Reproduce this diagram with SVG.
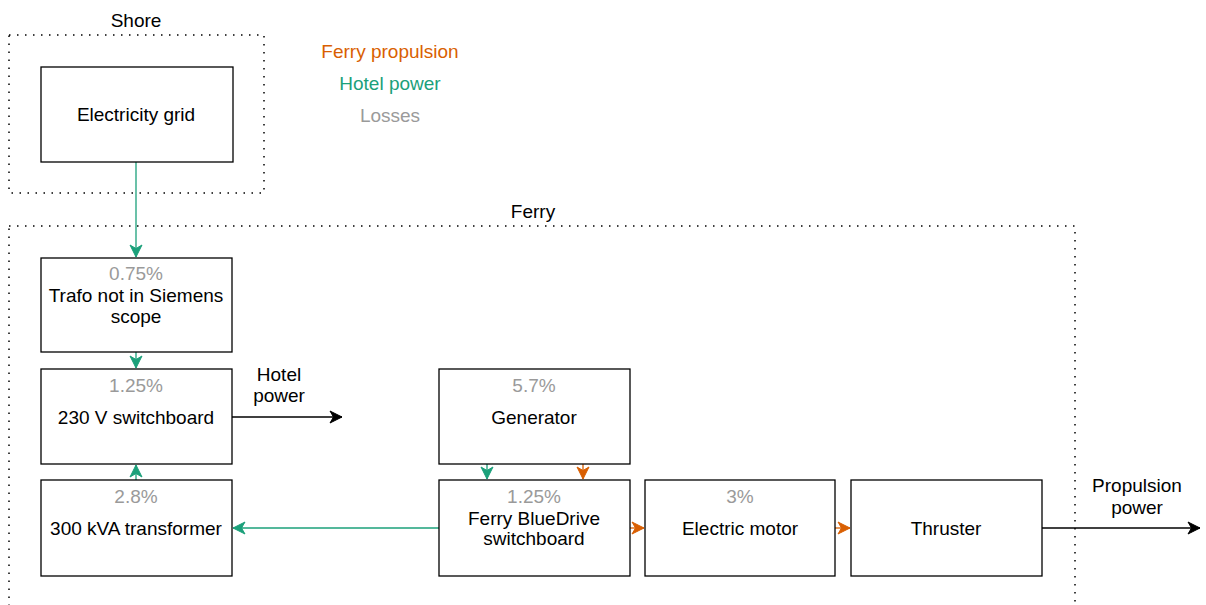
<svg xmlns="http://www.w3.org/2000/svg" width="1206" height="605" viewBox="0 0 1206 605">
<style>
text{font-family:"Liberation Sans",Arial,sans-serif;font-size:19px;text-anchor:middle;fill:#000}
.loss{fill:#9a9a9a}
.box{fill:#fff;stroke:#000;stroke-width:1.3}
.cont{fill:none;stroke:#000;stroke-width:1.5;stroke-dasharray:1.5 6.5}
.g{stroke:#1ba07a;stroke-width:1.3;fill:none}
.o{stroke:#d95f02;stroke-width:1.3;fill:none}
.k{stroke:#000;stroke-width:1.3;fill:none}
</style>
<defs>
<marker id="ag" markerUnits="userSpaceOnUse" viewBox="-13 -7 14 14" refX="0" refY="0" markerWidth="14" markerHeight="14" orient="auto"><path d="M-12,-6 L0,0 L-12,6 L-8.5,0 Z" fill="#1ba07a" stroke="#1ba07a" stroke-width="1"/></marker>
<marker id="ao" markerUnits="userSpaceOnUse" viewBox="-13 -7 14 14" refX="0" refY="0" markerWidth="14" markerHeight="14" orient="auto"><path d="M-12,-6 L0,0 L-12,6 L-8.5,0 Z" fill="#d95f02" stroke="#d95f02" stroke-width="1"/></marker>
<marker id="ak" markerUnits="userSpaceOnUse" viewBox="-13 -7 14 14" refX="0" refY="0" markerWidth="14" markerHeight="14" orient="auto"><path d="M-12,-6 L0,0 L-12,6 L-8.5,0 Z" fill="#000" stroke="#000" stroke-width="1"/></marker>
</defs>
<g id="shore">
<rect class="cont" x="9" y="35" width="255" height="158"/>
<text x="136" y="27">Shore</text>
</g>
<g id="ferry">
<rect class="cont" x="9" y="226" width="1066" height="420"/>
<text x="533" y="218">Ferry</text>
</g>
<g id="legend">
<text x="390" y="58" style="fill:#d95f02">Ferry propulsion</text>
<text x="390" y="90" style="fill:#1ba07a">Hotel power</text>
<text x="390" y="122" class="loss">Losses</text>
</g>
<g id="connectors">
<path class="g" d="M136,162 V257" marker-end="url(#ag)"/>
<path class="g" d="M136,352 V368" marker-end="url(#ag)"/>
<path class="g" d="M136,480 V465" marker-end="url(#ag)"/>
<path class="k" d="M232,417 H342" marker-end="url(#ak)"/>
<path class="g" d="M439,528 H233" marker-end="url(#ag)"/>
<path class="g" d="M487,464 V479" marker-end="url(#ag)"/>
<path class="o" d="M583,464 V479" marker-end="url(#ao)"/>
<path class="o" d="M630,528 H644" marker-end="url(#ao)"/>
<path class="o" d="M835,528 H850" marker-end="url(#ao)"/>
<path class="k" d="M1042,528 H1200" marker-end="url(#ak)"/>
<text x="279" y="381">Hotel</text>
<text x="279" y="402">power</text>
<text x="1137" y="492">Propulsion</text>
<text x="1137" y="514">power</text>
</g>
<g id="grid">
<rect class="box" x="41" y="67" width="192" height="95"/>
<text x="136" y="121">Electricity grid</text>
</g>
<g id="trafo">
<rect class="box" x="41" y="258" width="191" height="94"/>
<text x="136" y="280" class="loss">0.75%</text>
<text x="136" y="302">Trafo not in Siemens</text>
<text x="136" y="323">scope</text>
</g>
<g id="sb230">
<rect class="box" x="41" y="369" width="191" height="95"/>
<text x="136" y="392" class="loss">1.25%</text>
<text x="136" y="424">230 V switchboard</text>
</g>
<g id="transformer">
<rect class="box" x="41" y="480" width="191" height="96"/>
<text x="136" y="503" class="loss">2.8%</text>
<text x="136" y="535">300 kVA transformer</text>
</g>
<g id="generator">
<rect class="box" x="439" y="369" width="191" height="95"/>
<text x="534" y="392" class="loss">5.7%</text>
<text x="534" y="424">Generator</text>
</g>
<g id="bluedrive">
<rect class="box" x="439" y="480" width="191" height="96"/>
<text x="534" y="503" class="loss">1.25%</text>
<text x="534" y="525">Ferry BlueDrive</text>
<text x="534" y="545">switchboard</text>
</g>
<g id="motor">
<rect class="box" x="645" y="480" width="190" height="96"/>
<text x="740" y="503" class="loss">3%</text>
<text x="740" y="535">Electric motor</text>
</g>
<g id="thruster">
<rect class="box" x="851" y="480" width="191" height="96"/>
<text x="946" y="535">Thruster</text>
</g>
</svg>
